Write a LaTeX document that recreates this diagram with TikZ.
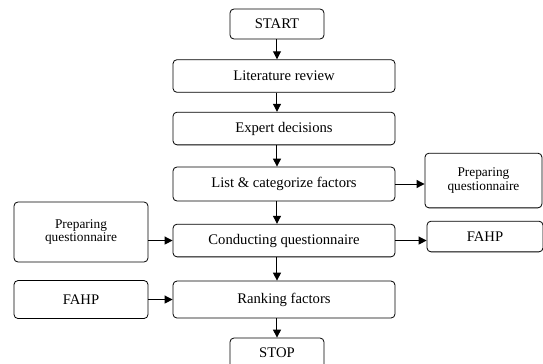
\documentclass[tikz,border=0pt]{standalone}
\usepackage{fontspec}
\setmainfont{Liberation Serif}
\usetikzlibrary{arrows.meta,positioning}

\begin{document}
\begin{tikzpicture}[node distance = 1cm, on grid, auto,
	block/.style = {draw, rounded corners=3pt, line width=0.6pt, minimum width=166.5pt, minimum height=24.5pt, font=\fontsize{11}{12}\selectfont},
	term/.style = {block, minimum width=70.5pt, minimum height=22.5pt},
	side/.style = {block, align=center, inner sep=1pt, font=\fontsize{10}{10}\selectfont},
	>={Triangle[length=6pt, width=6pt]}]
	\useasboundingbox (-207.75pt,18pt) rectangle (199.5pt,-255pt);
	\node	(start)	[term]							{START};
	\node	(lit)	[block, below=39pt of start, xshift=5.25pt]		{Literature review};
	\node	(exp)	[block, below=39.4pt of lit]				{Expert decisions};
	\node	(list)	[block, below=41.6pt of exp, minimum height=25.5pt]	{List \& categorize factors};
	\node	(cond)	[block, below=42.4pt of list]				{Conducting questionnaire};
	\node	(rank)	[block, below=44.25pt of cond, minimum height=27.75pt]	{Ranking factors};
	\node	(stop)	[term, below=40.1pt of rank, xshift=-5.25pt]		{STOP};
	\node	(prepR)	[side, right=149.6pt of list, yshift=2.6pt, minimum width=87.75pt, minimum height=41pt]	{Preparing\\questionnaire};
	\node	(fahpR)	[block, right=150.75pt of cond, yshift=3pt, minimum width=87pt, minimum height=23pt]	{FAHP};
	\node	(prepL)	[side, left=152.25pt of cond, yshift=6.4pt, minimum width=100.5pt, minimum height=45pt]	{Preparing\\questionnaire};
	\node	(fahpL)	[block, left=152.25pt of rank, minimum width=100.5pt, minimum height=28.5pt]	{FAHP};

	\path [->, line width=0.75pt]
	(start)			edge	(lit.north -| start)
	(lit.south -| start)	edge	(exp.north -| start)
	(exp.south -| start)	edge	(list.north -| start)
	(list.south -| start)	edge	(cond.north -| start)
	(cond.south -| start)	edge	(rank.north -| start)
	(rank.south -| start)	edge	(stop)
	(list)			edge	(list -| prepR.west)
	(cond)			edge	(cond -| fahpR.west)
	(prepL.east |- cond)	edge	(cond)
	(fahpL)			edge	(rank)
	;
\end{tikzpicture}
\end{document}
